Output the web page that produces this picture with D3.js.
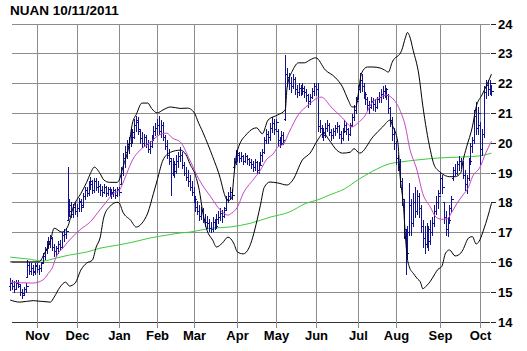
<!DOCTYPE html>
<html>
<head>
<meta charset="utf-8">
<script src="https://cdn.jsdelivr.net/npm/d3@7"></script>
<style>
  body { margin: 0; background: #fff; }
  #chart-area { width: 527px; height: 351px; }
  text { font-family: Arial, "Liberation Sans", sans-serif; font-weight: bold; fill: #000; }
</style>
</head>
<body>
<div id="chart-area"></div>
<script>
// NUAN daily bars, 10/12/2010 .. 10/11/2011 (trading day index 0..252)
const open = [
  15.2,15.3,15.2,15.1,15.3,15.2,15.0,14.95,15.1,15.5,
  15.9,15.7,15.8,15.7,15.85,15.75,15.8,16.0,16.2,16.4,
  16.6,16.7,16.8,16.5,16.35,16.45,16.6,16.5,16.9,16.95,
  17.4,17.7,17.9,17.6,17.85,17.7,17.8,18.0,17.9,18.2,
  18.4,18.3,18.6,18.7,18.4,18.7,18.5,18.55,18.4,18.35,
  18.5,18.3,18.45,18.35,18.3,18.4,18.25,18.45,18.6,19.0,
  19.5,19.7,19.9,20.0,20.3,20.2,20.6,20.7,20.4,20.15,
  20.0,20.2,19.95,19.8,19.9,20.15,20.4,20.5,20.6,20.4,
  20.6,20.2,19.9,19.6,19.4,19.0,19.3,19.05,19.4,19.55,
  19.6,19.25,19.0,18.85,18.7,18.5,18.35,18.1,17.85,17.7,
  17.55,17.7,17.45,17.35,17.3,17.15,17.1,17.35,17.2,17.45,
  17.5,17.65,17.55,17.8,18.1,18.2,18.35,19.2,19.35,19.6,
  19.65,19.5,19.55,19.4,19.55,19.45,19.35,19.3,19.2,19.35,
  19.1,19.3,19.6,19.7,20.1,20.3,20.2,20.5,20.65,20.45,
  20.4,20.1,20.0,20.25,20.8,22.3,22.2,22.0,21.9,22.15,
  21.8,21.7,21.85,21.75,21.85,21.7,21.6,21.4,21.55,21.75,
  21.9,21.8,20.55,20.5,20.35,20.25,20.5,20.6,20.35,20.25,
  20.4,20.5,20.55,20.3,20.15,20.4,20.6,20.45,20.3,20.6,
  20.85,21.1,21.5,21.8,22.1,21.9,21.65,21.45,21.25,21.2,
  21.4,21.3,21.2,21.45,21.55,21.65,21.75,21.8,21.6,21.15,
  20.75,20.3,20.0,19.5,19.3,18.7,18.1,17.0,16.3,17.0,
  17.9,17.3,18.0,17.7,18.2,17.8,17.2,16.8,16.6,17.1,
  16.7,17.0,17.3,17.7,18.0,18.3,18.8,18.0,17.5,17.1,
  17.4,17.8,18.8,19.1,19.0,19.3,19.4,19.3,18.9,18.6,
  18.8,19.4,19.9,20.1,20.9,20.5,20.6,19.8,20.3,21.7,
  21.95,21.8,21.9
];
const high = [
  15.45,15.4,15.35,15.4,15.4,15.25,15.1,15.15,15.3,16.05,
  16.0,15.95,15.9,15.95,15.95,15.9,16.0,16.3,16.5,16.7,
  16.85,16.9,16.85,16.6,16.55,16.7,16.75,17.0,17.1,17.15,
  19.2,18.1,18.0,17.95,18.0,17.95,18.15,18.1,18.3,18.5,
  18.5,18.7,18.85,18.75,18.8,18.8,18.7,18.6,18.55,18.6,
  18.55,18.5,18.5,18.45,18.5,18.45,18.5,18.5,19.2,19.65,
  19.9,20.1,20.2,20.5,20.45,20.8,20.9,20.85,20.45,20.35,
  20.3,20.25,20.1,20.05,20.25,20.55,20.65,20.8,20.9,20.75,
  20.7,20.25,20.1,19.8,19.5,19.5,19.4,19.6,19.7,19.85,
  19.7,19.35,19.2,19.1,18.9,18.7,18.5,18.2,18.05,17.9,
  17.85,17.8,17.6,17.55,17.45,17.35,17.5,17.45,17.6,17.7,
  17.8,17.75,17.85,18.2,18.35,18.5,18.45,19.5,19.75,19.75,
  19.7,19.7,19.6,19.65,19.6,19.5,19.45,19.4,19.45,19.4,
  19.35,19.7,19.8,20.2,20.45,20.4,20.65,20.85,20.8,20.8,
  20.45,20.2,20.4,20.35,22.95,22.5,22.35,22.2,22.3,22.2,
  21.95,22.0,21.95,22.0,21.9,21.8,21.65,21.65,21.85,22.0,
  22.0,22.0,20.75,20.6,20.5,20.65,20.75,20.65,20.45,20.5,
  20.6,20.7,20.6,20.4,20.5,20.75,20.7,20.5,20.65,20.95,
  21.25,21.55,21.95,22.35,22.3,22.0,21.7,21.55,21.4,21.55,
  21.5,21.45,21.55,21.7,21.8,21.9,21.95,21.85,21.65,21.2,
  20.85,20.5,20.05,19.6,19.45,18.8,18.1,17.1,17.2,18.65,
  18.1,18.3,18.5,18.4,18.3,17.9,17.4,17.2,17.3,17.2,
  17.4,17.5,17.9,18.2,18.4,19.0,18.9,18.0,17.7,17.5,
  17.9,18.2,19.2,19.3,19.4,19.55,19.5,19.4,19.1,18.9,
  19.5,20.0,20.2,21.1,21.35,21.2,20.7,20.45,21.9,22.1,
  22.1,22.1,21.95
];
const low = [
  15.05,15.1,15.0,15.1,15.15,14.9,14.8,14.9,15.0,15.5,
  15.6,15.6,15.55,15.6,15.65,15.6,15.7,15.95,16.1,16.3,
  16.45,16.5,16.4,16.2,16.2,16.3,16.4,16.45,16.7,16.8,
  17.4,17.55,17.5,17.5,17.6,17.55,17.7,17.7,17.85,18.1,
  18.2,18.25,18.45,18.3,18.35,18.4,18.35,18.25,18.2,18.3,
  18.2,18.25,18.2,18.15,18.2,18.15,18.2,18.25,18.6,18.9,
  19.2,19.5,19.65,19.9,20.0,20.15,20.4,20.3,20.0,19.85,
  19.9,19.85,19.7,19.65,19.85,20.1,20.25,20.3,20.3,20.2,
  20.1,19.8,19.5,19.3,18.25,18.9,18.85,19.0,19.2,19.4,
  19.15,18.9,18.75,18.55,18.4,18.25,18.0,17.7,17.6,17.4,
  17.45,17.35,17.2,17.15,17.05,17.0,17.05,17.1,17.15,17.3,
  17.4,17.35,17.5,17.75,18.0,18.1,18.1,19.15,19.3,19.4,
  19.35,19.4,19.3,19.35,19.3,19.25,19.15,19.05,19.1,19.0,
  19.0,19.25,19.4,19.65,20.0,20.0,20.1,20.35,20.3,20.4,
  19.9,19.85,19.95,19.95,20.75,21.9,21.8,21.7,21.85,21.65,
  21.55,21.6,21.6,21.65,21.55,21.4,21.2,21.3,21.5,21.6,
  21.6,20.4,20.35,20.2,20.1,20.2,20.4,20.25,20.1,20.15,
  20.25,20.35,20.15,20.0,20.1,20.35,20.3,20.1,20.25,20.55,
  20.75,21.0,21.45,21.7,21.75,21.5,21.3,21.1,21.0,21.15,
  21.1,21.05,21.15,21.35,21.35,21.5,21.55,21.45,21.0,20.55,
  20.1,19.8,19.3,19.1,18.5,17.9,16.8,15.6,16.1,16.9,
  16.9,17.2,17.5,17.6,17.5,17.0,16.5,16.3,16.5,16.4,
  16.6,16.9,17.2,17.6,17.8,18.3,18.3,17.3,16.9,16.86,
  17.3,17.7,18.76,18.9,18.95,19.1,19.15,18.8,18.4,18.3,
  18.75,19.3,19.7,20.0,20.3,20.3,19.3,19.6,20.2,21.5,
  21.6,21.65,21.6
];
const close = [
  15.3,15.2,15.1,15.3,15.25,15.0,14.9,15.1,15.2,15.9,
  15.7,15.8,15.65,15.9,15.75,15.8,15.95,16.2,16.4,16.6,
  16.7,16.8,16.5,16.35,16.45,16.6,16.5,16.9,16.95,17.05,
  17.7,17.9,17.6,17.85,17.7,17.8,18.05,17.85,18.2,18.4,
  18.3,18.6,18.7,18.4,18.7,18.5,18.55,18.4,18.35,18.5,
  18.3,18.45,18.35,18.3,18.4,18.25,18.45,18.35,19.0,19.5,
  19.7,19.95,20.0,20.35,20.2,20.6,20.75,20.45,20.15,20.0,
  20.2,19.95,19.8,19.9,20.15,20.4,20.5,20.6,20.4,20.6,
  20.2,19.9,19.6,19.5,19.0,19.3,19.05,19.4,19.55,19.6,
  19.25,19.0,18.85,18.7,18.5,18.35,18.1,17.85,17.7,17.55,
  17.7,17.45,17.35,17.3,17.15,17.1,17.35,17.2,17.45,17.5,
  17.65,17.55,17.75,18.1,18.2,18.35,18.25,19.35,19.6,19.65,
  19.5,19.55,19.4,19.55,19.45,19.35,19.3,19.2,19.35,19.1,
  19.25,19.6,19.7,20.1,20.3,20.2,20.5,20.65,20.45,20.7,
  20.1,20.0,20.25,20.1,22.3,22.2,22.0,21.9,22.15,21.8,
  21.7,21.85,21.75,21.85,21.7,21.6,21.4,21.55,21.75,21.9,
  21.8,20.55,20.5,20.35,20.25,20.5,20.6,20.35,20.25,20.4,
  20.5,20.55,20.3,20.15,20.4,20.6,20.45,20.3,20.55,20.85,
  21.1,21.4,21.8,22.1,21.9,21.65,21.45,21.25,21.2,21.4,
  21.3,21.2,21.45,21.55,21.65,21.75,21.8,21.6,21.15,20.75,
  20.3,20.0,19.5,19.3,18.7,18.1,17.1,16.3,17.0,17.9,
  17.3,18.0,17.7,18.2,17.8,17.2,16.8,16.6,17.1,16.7,
  17.0,17.3,17.7,18.0,18.2,18.8,18.5,17.5,17.1,17.4,
  17.8,18.1,19.1,19.0,19.3,19.4,19.3,18.9,18.6,18.8,
  19.4,19.9,20.1,20.9,20.5,21.0,19.8,20.3,21.7,21.95,
  21.8,22.0,21.75
];

// indicator lines as [trading day, value]
const upperBand = [
  [0,16.0],[15,16.0],[18,16.3],[21,16.7],[23,17.13],[27,17.0],[30,17.17],[33,17.84],[37,18.3],[40,18.67],
  [42,18.97],[44,19.18],[47,18.97],[49,18.75],[52,18.67],[56,18.67],[57,18.74],[59,19.18],[62,19.85],[64,20.66],
  [66,20.95],[69,21.33],[72,21.33],[74,21.15],[77,21.0],[80,21.1],[84,21.2],[89,21.15],[93,21.16],[95,21.1],
  [97,20.93],[98,20.76],[101,20.33],[106,19.53],[110,18.8],[112,18.3],[114,18.05],[116,18.15],[117,18.8],[118,19.4],
  [119,19.75],[124,20.3],[129,20.5],[132,20.3],[135,20.76],[140,20.93],[144,21.1],[145,21.87],[148,22.44],[151,22.68],
  [154,22.68],[157,22.78],[160,22.85],[165,22.44],[170,22.2],[174,21.87],[177,21.43],[179,21.2],[181,21.2],[182,21.53],
  [184,22.34],[187,22.54],[190,22.54],[194,22.5],[196,22.44],[198,22.37],[200,22.7],[205,23.1],[207,23.54],[208,23.7],
  [209,23.6],[211,23.1],[214,22.27],[216,21.26],[218,20.42],[220,19.75],[222,19.25],[225,19.02],[228,18.89],[230,18.86],
  [233,18.86],[236,19.0],[237,19.36],[239,19.86],[242,20.53],[244,21.2],[247,21.6],[250,22.0],[252,22.3]
];
const lowerBand = [
  [0,14.72],[5,14.65],[12,14.7],[21,14.65],[23,14.82],[26,15.15],[29,15.32],[31,15.19],[34,15.29],[37,15.73],
  [40,15.96],[43,16.06],[45,16.5],[47,16.8],[49,17.5],[52,17.85],[56,18.0],[57,17.98],[59,17.67],[63,17.4],
  [66,17.17],[69,17.3],[72,17.64],[75,18.3],[77,18.75],[80,19.42],[84,19.68],[89,19.75],[92,19.6],[94,19.3],
  [97,18.9],[99,18.4],[101,17.6],[103,17.07],[106,16.73],[108,16.5],[111,16.63],[114,16.83],[117,16.63],[119,16.33],
  [122,16.27],[125,16.47],[127,16.83],[128,17.07],[131,17.9],[133,18.5],[136,18.68],[140,18.65],[145,18.58],[148,18.75],
  [153,19.42],[157,19.65],[161,20.09],[164,20.32],[167,20.09],[171,19.75],[174,19.65],[178,19.68],[180,19.8],[183,19.65],
  [190,20.2],[195,20.53],[199,20.76],[200,20.6],[203,20.0],[204,19.0],[206,17.8],[207,16.8],[208,16.1],[209,15.83],
  [211,15.62],[213,15.45],[215,15.29],[216,15.1],[218,15.2],[220,15.35],[221,15.45],[224,15.75],[226,15.85],[228,16.3],
  [230,16.4],[233,16.2],[236,16.3],[237,16.4],[240,16.8],[242,16.85],[244,16.6],[246,16.75],[248,17.1],[250,17.5],
  [252,17.97]
];
const ma20 = [
  [0,15.32],[12,15.29],[17,15.39],[20,15.62],[22,15.8],[24,16.16],[28,16.5],[32,16.8],[37,17.1],[42,17.35],
  [47,17.75],[51,18.07],[54,18.3],[57,18.4],[61,18.97],[64,19.42],[68,19.75],[73,19.99],[78,20.26],[82,20.32],
  [85,20.15],[89,20.03],[94,19.42],[99,18.75],[105,18.18],[110,17.74],[114,17.57],[116,17.64],[119,17.84],[122,18.3],
  [127,18.74],[131,19.08],[134,19.42],[138,19.65],[140,19.85],[143,19.95],[146,20.35],[151,20.95],[156,21.26],[161,21.5],
  [163,21.53],[168,21.2],[174,20.83],[179,20.53],[182,20.66],[186,20.93],[189,21.3],[194,21.53],[197,21.6],[200,21.5],
  [204,21.1],[207,20.53],[209,19.86],[213,19.08],[216,18.3],[220,17.84],[223,17.5],[226,17.43],[229,17.45],[231,17.64],
  [234,17.97],[237,18.24],[240,18.51],[242,18.85],[246,19.18],[249,19.65],[252,20.05]
];
const ma200 = [
  [0,16.16],[9,16.1],[17,16.03],[24,16.13],[31,16.23],[40,16.33],[47,16.46],[56,16.56],[64,16.66],[73,16.8],
  [82,16.9],[89,16.97],[94,17.0],[105,17.13],[115,17.17],[126,17.3],[136,17.5],[146,17.67],[155,17.97],[161,18.08],
  [167,18.24],[175,18.45],[182,18.75],[190,19.05],[199,19.3],[204,19.35],[213,19.42],[225,19.49],[237,19.52],[246,19.56],
  [252,19.65]
];

// axis labels
const title = "NUAN 10/11/2011";
const monthLabels = ["Nov","Dec","Jan","Feb","Mar","Apr","May","Jun","Jul","Aug","Sep","Oct"];
const monthDay = [14,35,57,77,96,119,139,160,182,202,225,246];
const priceTicks = [14,15,16,17,18,19,20,21,22,23,24];

class BarChart {
    constructor(parentElement) {
        this.parentElement = parentElement;
        this.initVis();
    }

    initVis() {
        let vis = this;

        vis.width = 527;
        vis.height = 351;
        vis.left = 12;
        vis.right = 490;

        vis.svg = d3.select("#" + vis.parentElement).append("svg")
            .attr("width", vis.width)
            .attr("height", vis.height);

        vis.x = d3.scaleLinear()
            .domain([14, 246])
            .range([37, 480]);
        vis.y = d3.scaleLinear()
            .domain([14, 24])
            .range([321.5, 23.5]);

        vis.bars = open.map((o, i) => ({i: i, o: o, h: high[i], l: low[i], c: close[i]}));

        vis.updateVis();
    }

    updateVis() {
        let vis = this;
        let px = v => Math.round(v) + 0.5;

        // grid
        let grid = vis.svg.append("g").attr("shape-rendering", "crispEdges");
        grid.selectAll(".hgrid")
            .data(priceTicks)
            .enter().append("line")
            .attr("x1", vis.left)
            .attr("x2", vis.right)
            .attr("y1", d => px(vis.y(d)))
            .attr("y2", d => px(vis.y(d)))
            .attr("stroke", d => d === 14 ? "#333" : "#8c8c8c");
        grid.selectAll(".vgrid")
            .data(monthDay)
            .enter().append("line")
            .attr("x1", d => px(vis.x(d)))
            .attr("x2", d => px(vis.x(d)))
            .attr("y1", px(vis.y(24)))
            .attr("y2", px(vis.y(14)) + 5)
            .attr("stroke", "#8c8c8c");

        // right ticks + labels
        grid.selectAll(".rtick")
            .data(priceTicks)
            .enter().append("line")
            .attr("x1", vis.right + 1)
            .attr("x2", vis.right + 6)
            .attr("y1", d => px(vis.y(d)))
            .attr("y2", d => px(vis.y(d)))
            .attr("stroke", "#222");
        vis.svg.selectAll(".ylabel")
            .data(priceTicks)
            .enter().append("text")
            .attr("x", vis.right + 8)
            .attr("y", d => vis.y(d) + 5)
            .attr("font-size", 13)
            .text(d => d);

        vis.svg.selectAll(".xlabel")
            .data(monthLabels)
            .enter().append("text")
            .attr("x", (d, i) => px(vis.x(monthDay[i])))
            .attr("y", 340)
            .attr("text-anchor", "middle")
            .attr("font-size", 13)
            .text(d => d);

        vis.svg.append("text")
            .attr("x", 10)
            .attr("y", 15)
            .attr("font-size", 13.5)
            .text(title);

        // 200 day average
        let line = d3.line()
            .x(d => vis.x(d[0]))
            .y(d => vis.y(d[1]))
            .curve(d3.curveMonotoneX);

        vis.svg.append("path")
            .attr("d", line(ma200))
            .attr("fill", "none")
            .attr("stroke", "#3ccc3c")
            .attr("stroke-width", 1);

        // OHLC bars
        vis.svg.append("g")
            .attr("shape-rendering", "crispEdges")
            .selectAll("path")
            .data(vis.bars)
            .enter().append("path")
            .attr("d", d => {
                let x = px(vis.x(d.i));
                return `M${x},${Math.round(vis.y(d.h))}V${Math.round(vis.y(d.l)) + 1}` +
                    `M${x - 2},${px(vis.y(d.o))}H${x}` +
                    `M${x},${px(vis.y(d.c))}H${x + 2}`;
            })
            .attr("fill", "none")
            .attr("stroke", "#12128e")
            .attr("stroke-width", 1);

        // bands and 20 day average
        [upperBand, lowerBand].forEach(band => {
            vis.svg.append("path")
                .attr("d", line(band))
                .attr("fill", "none")
                .attr("stroke", "#000")
                .attr("stroke-width", 1);
        });

        vis.svg.append("path")
            .attr("d", line(ma20))
            .attr("fill", "none")
            .attr("stroke", "#c844c8")
            .attr("stroke-width", 1);
    }
}

new BarChart("chart-area");
</script>
</body>
</html>
